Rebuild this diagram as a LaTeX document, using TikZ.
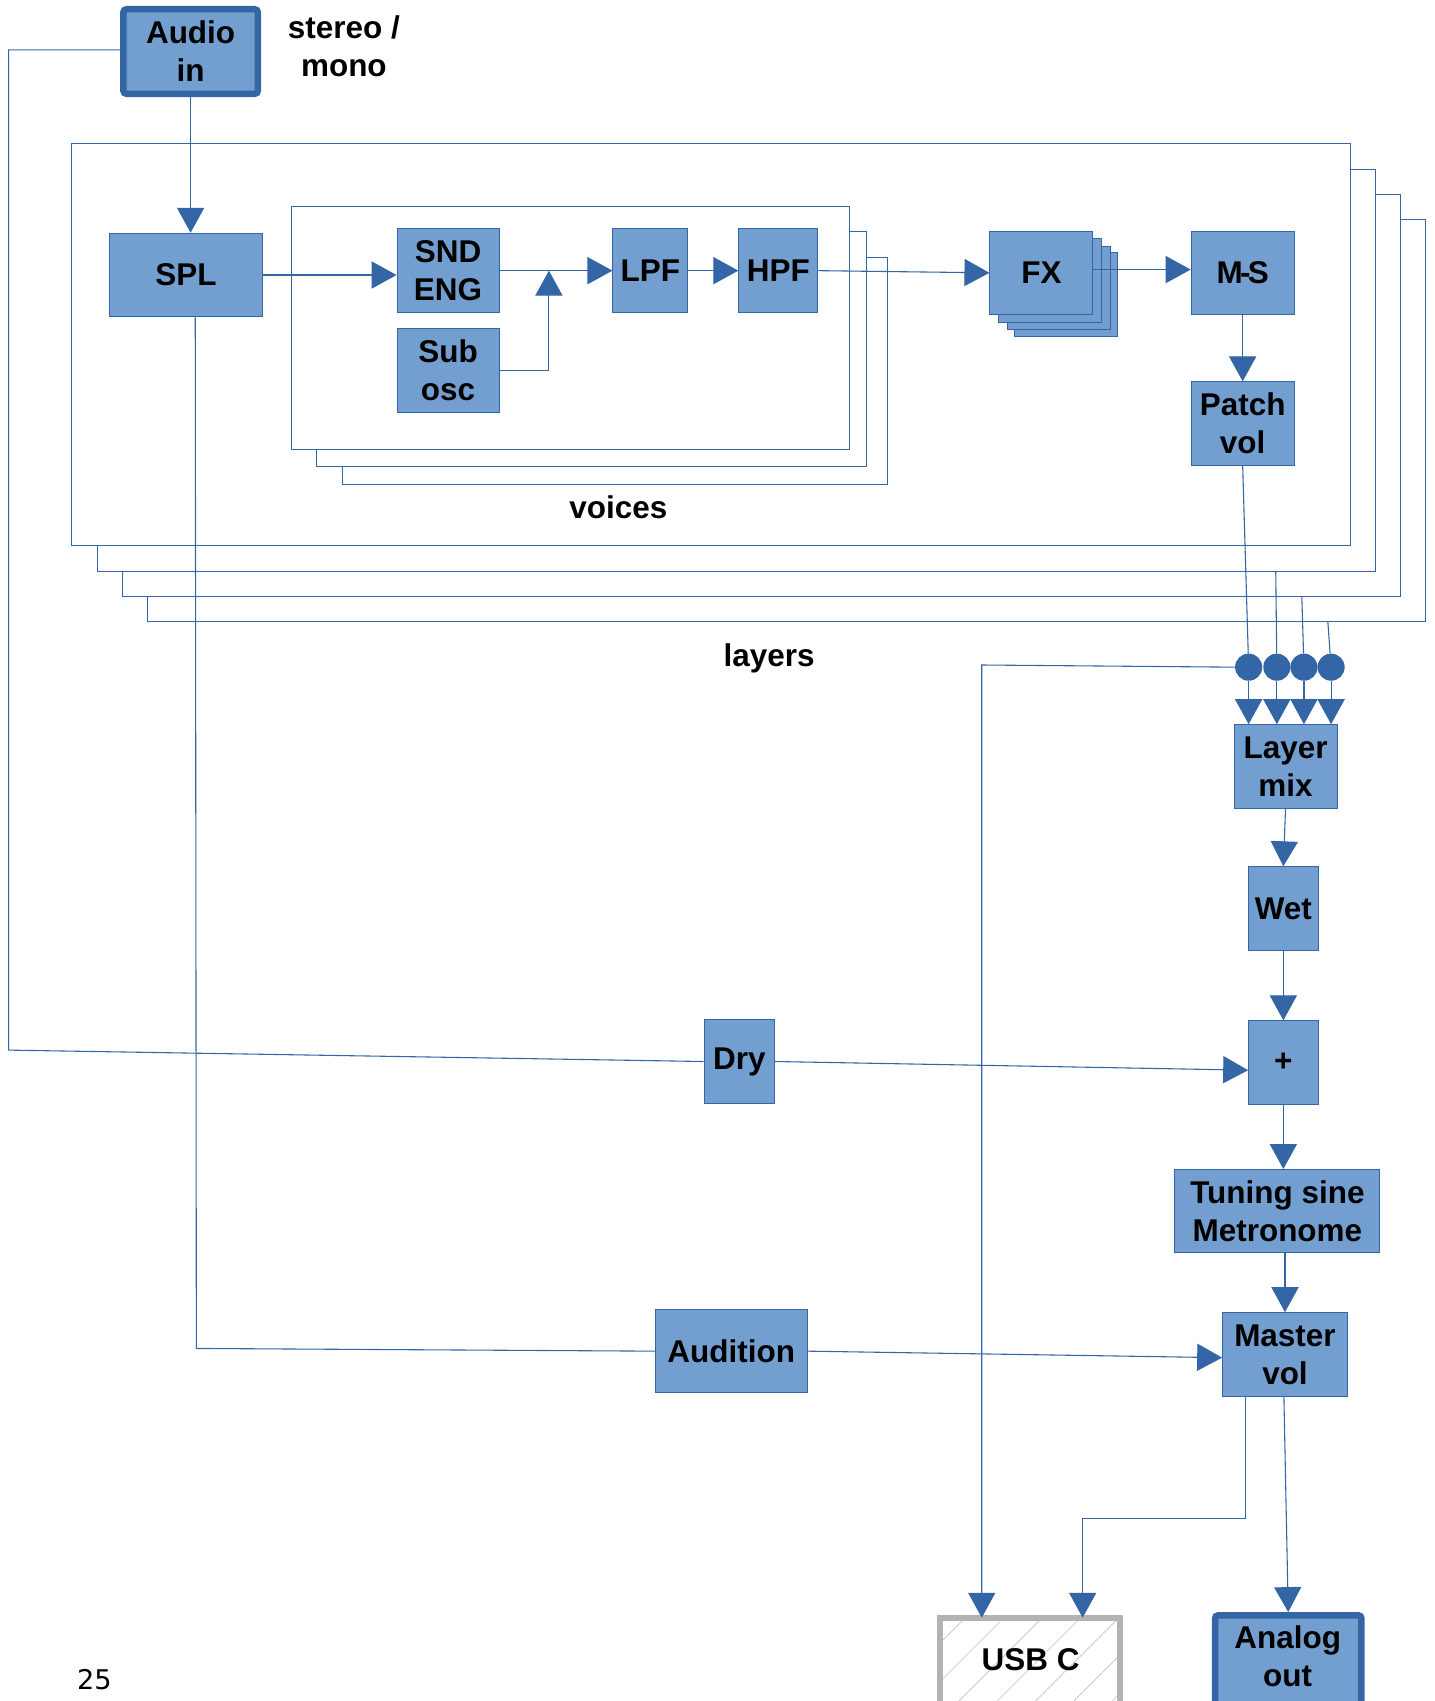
\documentclass[tikz,border=0pt]{standalone}
\usepackage{fontspec}
\setmainfont{Liberation Sans}
\newfontfamily\dejavu{DejaVu Sans}
\usetikzlibrary{arrows.meta,patterns.meta,calc}
\definecolor{dblue}{HTML}{3465A4}
\definecolor{lblue}{HTML}{729FCF}
\definecolor{ugray}{HTML}{B3B3B3}
\begin{document}
\begin{tikzpicture}[x=1pt,y=-1pt,
 blk/.style={draw=dblue,fill=lblue,line width=0.9pt,inner sep=0pt,align=center,font=\bfseries\fontsize{29}{35}\selectfont,text=black},
 frame/.style={draw=dblue,fill=white,line width=1pt},
 wire/.style={draw=dblue,line width=1pt},
 arr/.style={wire,-{Triangle[width=25pt,length=23pt]}},
 lbl/.style={font=\bfseries\fontsize{29}{35}\selectfont,align=center,inner sep=0pt},
 dot/.style={circle,fill=dblue,draw=none,minimum size=25pt,inner sep=0pt}]
\useasboundingbox (0,0) rectangle (1322,1568);

% layer frames
\draw[frame] (136,202) rectangle (1314,573);
\draw[frame] (113,179) rectangle (1291,550);
\draw[frame] (90,156) rectangle (1268,527);
\draw[frame] (66,132) rectangle (1245,503);
% voice frames
\draw[frame] (316,237) rectangle (818,447);
\draw[frame] (292,213) rectangle (799,430);
\draw[frame] (269,190) rectangle (783,414);

\node[lbl] (voices) at (570,468) {voices};
\node[lbl] (layers) at (709,607) {layers};
\node[lbl] (stereo) at (317,43) {stereo /\\mono};

% blocks
\node[blk,line width=6pt,rounded corners=3pt,minimum width=124pt,minimum height=78pt] (audio) at (175.7,47.5) {Audio\\in};
\node[blk,minimum width=141pt,minimum height=77pt] (spl) at (171.5,253.5) {SPL};
\node[blk,minimum width=94pt,minimum height=77pt] (snd) at (413,249.5) {SND\\ENG};
\node[blk,minimum width=94pt,minimum height=77pt] (sub) at (413,341.5) {Sub\\osc};
\node[blk,minimum width=69pt,minimum height=77pt] (lpf) at (599.5,249.5) {LPF};
\node[blk,minimum width=73pt,minimum height=77pt] (hpf) at (717.5,249.5) {HPF};
\node[blk,minimum width=95pt,minimum height=77pt] (fxb3) at (983,271.5) {};
\node[blk,minimum width=95pt,minimum height=77pt] (fxb2) at (976,265.5) {};
\node[blk,minimum width=95pt,minimum height=77pt] (fxb1) at (968,258.5) {};
\node[blk,minimum width=95pt,minimum height=77pt] (fx) at (960,251.5) {FX};
\node[blk,minimum width=95pt,minimum height=77pt] (ms) at (1145.5,251.5) {M\kern-2.5pt-\kern-2.5pt S};
\node[blk,minimum width=95pt,minimum height=77pt] (patch) at (1145.5,390.5) {Patch\\vol};
\node[blk,minimum width=95pt,minimum height=77pt] (layermix) at (1185,706.5) {Layer\\mix};
\node[blk,minimum width=64pt,minimum height=77pt] (wet) at (1183,837.5) {Wet};
\node[blk,minimum width=64pt,minimum height=77pt] (plus) at (1183,979.5) {+};
\node[blk,minimum width=65pt,minimum height=77pt] (dry) at (681.5,978.5) {Dry};
\node[blk,minimum width=189pt,minimum height=77pt] (tuning) at (1177.5,1116.5) {Tuning sine\\Metronome};
\node[blk,minimum width=115pt,minimum height=77pt] (master) at (1184.5,1248.5) {Master\\vol};
\node[blk,minimum width=140pt,minimum height=77pt] (audition) at (674,1245.5) {Audition};
\node[draw=ugray,line width=5pt,preaction={fill=white},pattern={Lines[angle=45,distance=25pt,line width=0.6pt]},pattern color=ugray!80,minimum width=166pt,minimum height=100pt,inner sep=0pt] (usb) at (949.5,1541.5) {};
\node[lbl] (usbtext) at (950,1530) {USB C};
\node[blk,line width=6pt,rounded corners=3pt,minimum width=135pt,minimum height=100pt] (analog) at (1187.5,1539) {};
\node[lbl] (analogtext) at (1187,1527) {Analog\\out};

% mixing dots
\node[dot] (c1) at (1151,615) {};
\node[dot] (c2) at (1177,615) {};
\node[dot] (c3) at (1202,615) {};
\node[dot] (c4) at (1227,615) {};

\node[font=\dejavu\fontsize{25}{30}\selectfont,inner sep=0pt] (pg) at (87,1548) {25};

% coordinates
\coordinate (a1) at (8,46);
\coordinate (a2) at (8,968);
\coordinate (j) at (506,249.5);
\coordinate (l2) at (1176,527);
\coordinate (l3) at (1200,550);
\coordinate (l4) at (1224,573);
\coordinate (u1) at (905,613);
\coordinate (s0) at (180,292);
\coordinate (s1) at (181,1243);
\coordinate (m1) at (1148,1400);
\coordinate (m2) at (998,1400);

% connectors
\draw[wire] (audio.west |- a1) -- (a1) -- (a2) -- (dry.west);
\draw[arr] (audio.south) -- (audio.south |- spl.north);
\draw[arr] (spl.east) -- (spl.east -| snd.west);
\draw[arr] (snd.east) -- (lpf.west);
\draw[arr] (sub.east) -| (j);
\draw[arr] (lpf.east) -- (hpf.west);
\draw[arr] (hpf.east) -- (fx.west);
\draw[arr] ($(fx.east)+(0,-3)$) -- ($(ms.west)+(0,-3)$);
\draw[arr] (ms.south) -- (patch.north);
\draw[wire] (patch.south) -- (c1);
\draw[wire] (l2) -- (c2);
\draw[wire] (l3) -- (c3);
\draw[wire] (l4) -- (c4);
\foreach \c in {c1,c2,c3,c4} \draw[arr] (\c) -- (\c |- layermix.north);
\draw[arr] (c1.west) -- (u1) -- (u1 |- usb.north);
\draw[arr] (layermix.south) -- (wet.north);
\draw[arr] (wet.south) -- (plus.north);
\draw[arr] (dry.east) -- ($(plus.west)+(0,7)$);
\draw[arr] (plus.south) -- (tuning.north -| plus.south);
\draw[arr] (tuning.south -| master.north) -- (master.north);
\draw[wire] (spl.south -| s0) -- (s1) -- (audition.west);
\draw[arr] (audition.east) -- ($(master.west)+(0,3)$);
\draw[arr] (master.south -| m1) -- (m1) -- (m2) -- (m2 |- usb.north);
\draw[arr] ($(master.south)+(-1,0)$) -- (analog.north);
\end{tikzpicture}
\end{document}
